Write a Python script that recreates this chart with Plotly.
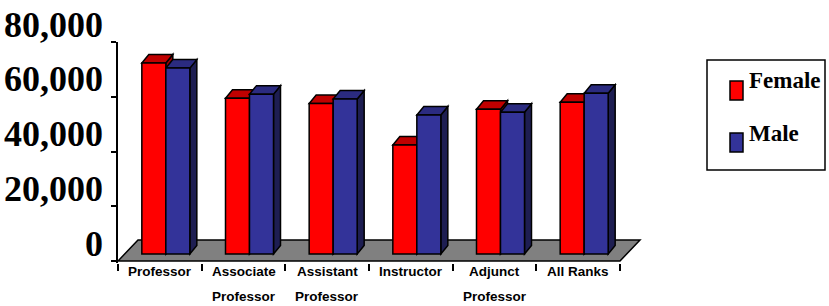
import plotly.graph_objects as go

# ---------------- data ----------------
cat_line1 = ["Professor", "Associate", "Assistant", "Instructor", "Adjunct", "All Ranks"]
cat_line2 = ["", "Professor", "Professor", "", "Professor", ""]
female = [69800, 56900, 55000, 39800, 52900, 55400]
male = [67900, 58400, 56600, 50800, 51800, 58700]
y_ticks = [0, 20000, 40000, 60000, 80000]
series_names = ["Female", "Male"]

# ---------------- geometry / style ----------------
W, H = 829, 306
L, R, T, B = 118, 187, 42, 43
plot_w = W - L - R
plot_h = H - T - B

PX_PER_CAT = 502 / 6.0
Y_PX_PER_UNIT = 219 / 80000.0
x_range = [-0.5, -0.5 + plot_w / PX_PER_CAT]
y_range = [80000 - plot_h / Y_PX_PER_UNIT, 80000]

def ux(px):
    return px / PX_PER_CAT

def uy(px):
    return px / Y_PX_PER_UNIT

# bars sit a little behind the front plane
bar_shift = (6, 7)
x2_range = [x_range[0] - ux(bar_shift[0]), x_range[1] - ux(bar_shift[0])]
y2_range = [y_range[0] - uy(bar_shift[1]), y_range[1] - uy(bar_shift[1])]

floor_dx, floor_dy = ux(20), uy(21)
face_dx, face_dy = ux(7), uy(8.5)
bw = ux(24)

RED, RED_TOP, RED_SIDE = "#FF0000", "#C00000", "#A00000"
BLUE, BLUE_TOP, BLUE_SIDE = "#333399", "#2B2B80", "#1E1E52"
EDGE = dict(color="black", width=1.5)

def poly(pts):
    return "M " + " L ".join(f"{x},{y}" for x, y in pts) + " Z"

shapes = []
# floor
n = len(cat_line1)
shapes.append(dict(type="path", xref="x", yref="y", layer="below",
                   path=poly([(-0.5, 0), (n - 0.5, 0),
                              (n - 0.5 + floor_dx, floor_dy), (-0.5 + floor_dx, floor_dy)]),
                   fillcolor="#808080", line=EDGE))

def faces(x0, x1, v, top_col, side_col):
    side = poly([(x1, 0), (x1 + face_dx, face_dy), (x1 + face_dx, v + face_dy), (x1, v)])
    top = poly([(x0, v), (x1, v), (x1 + face_dx, v + face_dy), (x0 + face_dx, v + face_dy)])
    return [dict(type="path", xref="x2", yref="y2", layer="below", path=side,
                 fillcolor=side_col, line=EDGE),
            dict(type="path", xref="x2", yref="y2", layer="below", path=top,
                 fillcolor=top_col, line=EDGE)]

for i in range(n):
    shapes += faces(i - bw, i, female[i], RED_TOP, RED_SIDE)
    shapes += faces(i, i + bw, male[i], BLUE_TOP, BLUE_SIDE)

fig = go.Figure()
idx = list(range(n))
fig.add_trace(go.Bar(x=idx, y=female, name=series_names[0], offset=-bw, width=bw,
                     marker=dict(color=RED, line=EDGE), xaxis="x2", yaxis="y2",
                     showlegend=False))
fig.add_trace(go.Bar(x=idx, y=male, name=series_names[1], offset=0, width=bw,
                     marker=dict(color=BLUE, line=EDGE), xaxis="x2", yaxis="y2",
                     showlegend=False))

# category labels
def px_to_paper_x(px):
    return (px - L) / plot_w

def px_to_paper_y(py):
    return (H - B - py) / plot_h

annotations = []
lab_font = dict(family="Liberation Sans, Arial, sans-serif",
                size=13.5, color="black", weight="bold")
for i in range(n):
    annotations.append(dict(x=i, xref="x", y=0, yref="paper", yanchor="middle",
                            yshift=-8, text=cat_line1[i], showarrow=False, font=lab_font))
    if cat_line2[i]:
        annotations.append(dict(x=i, xref="x", y=0, yref="paper", yanchor="middle",
                                yshift=-33, text=cat_line2[i], showarrow=False, font=lab_font))

# legend (drawn manually)
leg_font = dict(family="Liberation Serif, Times New Roman, serif", size=23,
                color="black", weight="bold")
shapes.append(dict(type="rect", xref="paper", yref="paper",
                   x0=px_to_paper_x(707), x1=px_to_paper_x(825),
                   y0=px_to_paper_y(170), y1=px_to_paper_y(60),
                   line=dict(color="black", width=1.5), fillcolor="white"))
for k, (col, ytop, ytxt) in enumerate([(RED, 81, 80), (BLUE, 133, 133)]):
    shapes.append(dict(type="rect", xref="paper", yref="paper",
                       x0=px_to_paper_x(730), x1=px_to_paper_x(743),
                       y0=px_to_paper_y(ytop + 19), y1=px_to_paper_y(ytop),
                       fillcolor=col, line=dict(color="black", width=1.5)))
    annotations.append(dict(x=px_to_paper_x(747), xref="paper", xanchor="left",
                            y=px_to_paper_y(ytxt), yref="paper", yanchor="middle",
                            text=series_names[k], showarrow=False, font=leg_font))

fig.update_layout(
    width=W, height=H,
    margin=dict(l=L, r=R, t=T, b=B, pad=0, autoexpand=False),
    paper_bgcolor="white", plot_bgcolor="white",
    barmode="overlay",
    shapes=shapes, annotations=annotations,
    showlegend=False,
    xaxis=dict(range=x_range, tickvals=[i - 0.5 for i in range(n + 1)],
               ticks="outside", ticklen=7, tickwidth=1.5, tickcolor="black",
               showticklabels=False, showline=False, showgrid=False, zeroline=False,
               automargin=False),
    yaxis=dict(range=y_range, tickvals=y_ticks, tickformat=",",
               ticks="outside", ticklen=5, tickwidth=1.5, tickcolor="black",
               showline=True, linecolor="black", linewidth=1.5,
               showgrid=False, zeroline=False, automargin=False,
               ticklabelshift=-18, ticklabelstandoff=1,
               tickfont=dict(family="Liberation Serif, Times New Roman, serif",
                             size=36, color="black", weight="bold")),
    xaxis2=dict(range=x2_range, overlaying="x", visible=False),
    yaxis2=dict(range=y2_range, overlaying="y", visible=False),
)

fig.write_html("out.html", config={"displayModeBar": False},
               post_script="document.body.style.margin='0';document.body.style.padding='0';")
